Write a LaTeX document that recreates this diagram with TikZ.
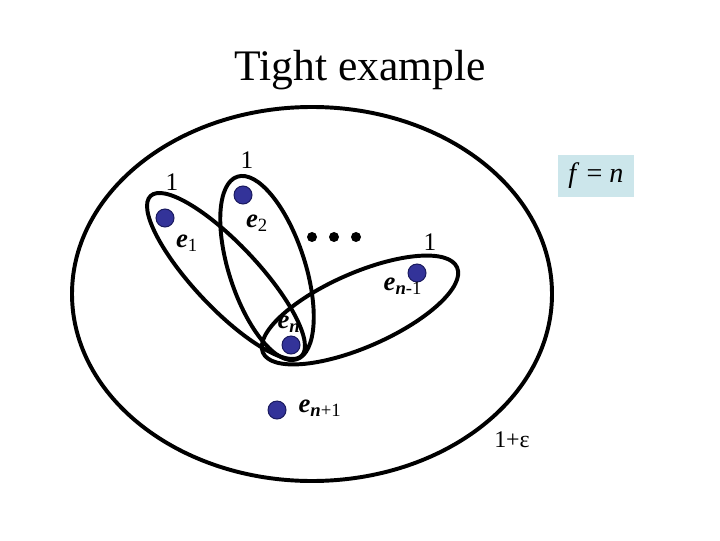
\documentclass[tikz,border=0pt]{standalone}
\usepackage{amsmath}
\usepackage{fontspec}
\setmainfont{Liberation Serif}
\usetikzlibrary{positioning}
\definecolor{dotblue}{HTML}{333399}
\definecolor{dotedge}{HTML}{1A1A5E}
\definecolor{boxblue}{HTML}{CCE6EB}
\newcommand{\ev}{\textbf{\textit{e}}}
\newcommand{\nv}{\textbf{\textit{n}}}

\begin{document}
\begin{tikzpicture}[x=0.025cm,y=0.025cm,
  elem/.style={circle,fill=dotblue,draw=dotedge,line width=0.7pt,
    minimum size=0.45cm,inner sep=0pt},
  gap/.style={circle,fill=black,minimum size=0.25cm,inner sep=0pt},
  set/.style={line width=2.8pt},
  lab/.style={font=\fontsize{18}{21}\selectfont,inner sep=1pt},
  elab/.style={font=\fontsize{19}{22}\selectfont,inner sep=1pt}]
\useasboundingbox (0,0) rectangle (720,540);

\node[font=\fontsize{31}{36}\selectfont] (title) at (360,470) {Tight example};

% sets
\draw[set] (312,246) ellipse [x radius=240,y radius=187];
\draw[set,rotate around={-46.7:(226,264)}] (226,264) ellipse [x radius=110,y radius=32];
\draw[set,rotate around={-72:(267,272)}] (267,272) ellipse [x radius=96,y radius=38];
\draw[set,rotate around={23.7:(360,230)}] (360,230) ellipse [x radius=106,y radius=37];

% elements
\node[elem] (e1) at (165,322) {};
\node[elem] (e2) at (243,345) {};
\node[elem] (enm) at (417,267) {};
\node[elem] (en) at (291,195) {};
\node[elem] (enp) at (277,130) {};
\node[gap] (d1) at (312,303) {};
\node[gap] (d2) at (334,303) {};
\node[gap] (d3) at (356,303) {};

% labels
\node[lab] (w1) at (172,358) {1};
\node[lab] (w2) at (247,380) {1};
\node[lab] (wn) at (430,298) {1};
\node[elab] (le1) at (187,297) {$\ev_{\text{1}}$};
\node[elab] (le2) at (257,317) {$\ev_{\text{2}}$};
\node[elab] (lenm) at (403,254) {$\ev_{\nv\text{-1}}$};
\node[elab] (len) at (289,216) {$\ev_{\nv}$};
\node[elab] (lenp) at (320,132) {$\ev_{\nv\text{+1}}$};
\node[font=\fontsize{17}{20}\selectfont,inner sep=1pt] (eps) at (512,100) {1+ε};
\node[font=\fontsize{20}{24}\selectfont,fill=boxblue,minimum width=1.92cm,
  minimum height=1.05cm,inner sep=1pt] (fn) at (596,364) {\textit{f} = \textit{n}};
\end{tikzpicture}
\end{document}
